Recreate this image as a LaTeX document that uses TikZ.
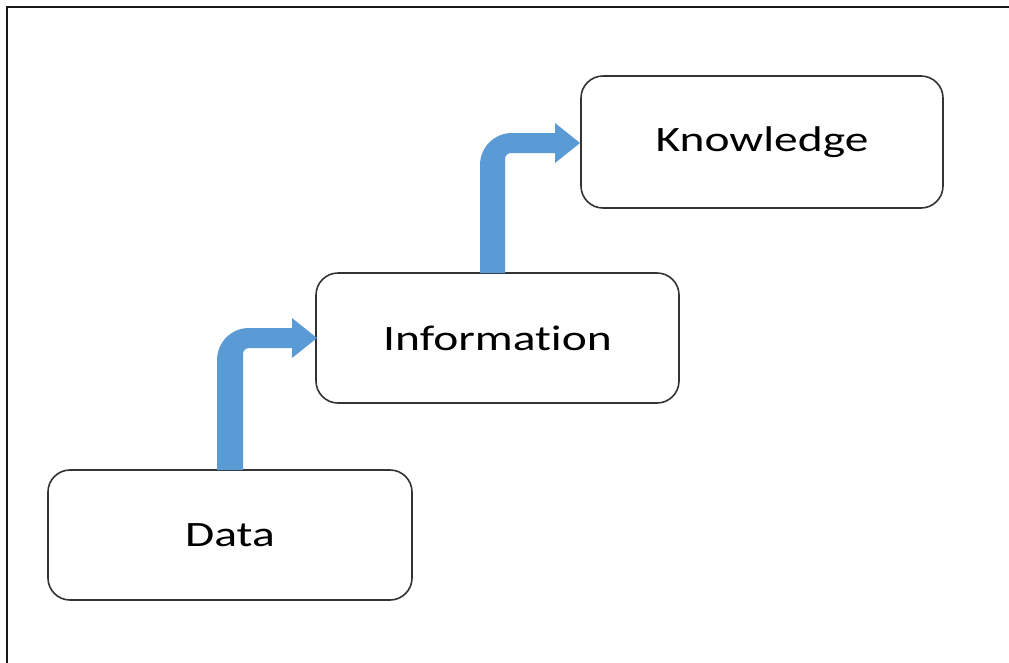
\documentclass[tikz,border=0pt]{standalone}
\usepackage{fontspec}
\setmainfont{Carlito}[FakeStretch=1.33,Ligatures=NoCommon]
\begin{document}
\begin{tikzpicture}[x=1pt,y=-1pt,
  box/.style={draw=black!80,line width=1.6pt,rounded corners=22pt,fill=white},
  arrowfill/.style={fill={rgb,255:red,91;green,155;blue,213}},
  lbl/.style={font=\fontsize{35.7}{40}\selectfont,text=black}]
\useasboundingbox (0,0) rectangle (1009,662);
\clip (0,0) rectangle (1009,662);
\fill[white] (0,0) rectangle (1009,662);
% frame (top and left only)
\draw[black!90,line width=2.4pt] (7,670) -- (7,7) -- (1020,7);
% boxes
\draw[box] (48,470) rectangle (412,600);
\node[lbl] (data) at (230,535) {Data};
\draw[box] (316,273) rectangle (679,403);
\node[lbl] (info) at (497.5,338) {Information};
\draw[box] (581,76) rectangle (943,208);
\node[lbl] (know) at (762,142) {Knowledge};
% bent arrow 1
\fill[arrowfill] (217,470) -- (217,360)
  .. controls (217,342.3) and (231.3,328) .. (249,328)
  -- (292,328) -- (292,318) -- (317,338) -- (292,358) -- (292,348)
  -- (249,348) .. controls (245.7,348) and (243,350.7) .. (243,354)
  -- (243,470) -- cycle;
% bent arrow 2
\fill[arrowfill] (480,273) -- (480,165)
  .. controls (480,147.3) and (494.3,133) .. (512,133)
  -- (555,133) -- (555,123) -- (580,143) -- (555,163) -- (555,153)
  -- (511,153) .. controls (507.7,153) and (505,155.7) .. (505,159)
  -- (505,273) -- cycle;
\end{tikzpicture}
\end{document}
